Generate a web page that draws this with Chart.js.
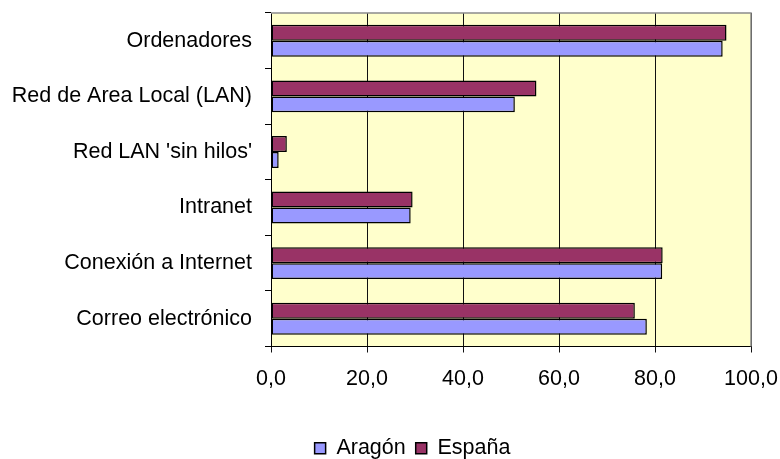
<!DOCTYPE html>
<html><head><meta charset="utf-8">
<script src="https://cdn.jsdelivr.net/npm/chart.js@4"></script>
<style>html,body{margin:0;padding:0;background:#fff}</style>
</head><body>
<canvas id="c" width="780" height="459"></canvas>
<script>
const categories = ["Ordenadores", "Red de Area Local (LAN)", "Red LAN 'sin hilos'", "Intranet", "Conexión a Internet", "Correo electrónico"];
const aragon = [94.1, 50.8, 1.6, 29.1, 81.5, 78.3];
const espana = [94.9, 55.3, 3.3, 29.5, 81.6, 75.8];
const xMin = 0, xMax = 100, xStep = 20;
const seriesNames = ["Aragón", "España"];

const FONT = {family: "'Liberation Sans', Arial, sans-serif", size: 21.5};

const plotBg = {
  id: 'plotBg',
  beforeDraw(chart) {
    const {ctx, chartArea: a} = chart;
    ctx.save();
    ctx.fillStyle = '#FFFFCC';
    ctx.fillRect(a.left, a.top, a.right - a.left, a.bottom - a.top);
    ctx.restore();
  },
  beforeDatasetsDraw(chart) {
    const {ctx, chartArea: a} = chart;
    ctx.save();
    ctx.strokeStyle = '#8c8c8c';
    ctx.lineWidth = 1.5;
    ctx.beginPath();
    ctx.moveTo(a.left, a.top);
    ctx.lineTo(a.right, a.top);
    ctx.lineTo(a.right, a.bottom);
    ctx.stroke();
    ctx.restore();
  }
};

const legendTweak = {
  id: 'legendTweak',
  beforeLayout(chart) {
    const lg = chart.legend;
    if (lg && !lg._tweaked) {
      lg._tweaked = true;
      const orig = lg.fit;
      lg.fit = function () { orig.call(this); this.height = Math.max(0, this.height - 10); };
    }
  },
  afterLayout(chart) {
    const lg = chart.legend;
    if (lg) { lg.left += 37; lg.right += 37; }
  }
};

const noScalePad = s => { s.paddingLeft = 0; s.paddingRight = 0; s.paddingTop = 0; s.paddingBottom = 0; };

Chart.defaults.color = '#000';
Chart.defaults.font.family = FONT.family;

new Chart(document.getElementById('c'), {
  type: 'bar',
  data: {
    labels: categories,
    datasets: [
      {label: seriesNames[1], data: espana, backgroundColor: '#993366', borderColor: '#000', borderWidth: 1.5, borderSkipped: false},
      {label: seriesNames[0], data: aragon, backgroundColor: '#9999FF', borderColor: '#000', borderWidth: 1.5, borderSkipped: false}
    ]
  },
  options: {
    indexAxis: 'y',
    responsive: false,
    animation: false,
    devicePixelRatio: 1,
    datasets: {bar: {categoryPercentage: 0.575, barPercentage: 1.0}},
    layout: {padding: {top: 13, right: 29, left: 0, bottom: 0}},
    scales: {
      x: {
        min: xMin, max: xMax,
        ticks: {stepSize: xStep, padding: 14, font: FONT, maxRotation: 0, autoSkip: false,
          callback: v => Number(v).toFixed(1).replace('.', ',')},
        grid: {color: '#111', lineWidth: 1, tickLength: 6, drawTicks: true},
        border: {color: '#000', width: 1},
        afterFit: s => { s.height = 81; noScalePad(s); }
      },
      y: {
        ticks: {padding: 13, font: FONT, autoSkip: false},
        grid: {drawOnChartArea: false, color: '#000', tickLength: 6, offset: true},
        border: {color: '#000', width: 1},
        afterFit: s => { s.width = 271; noScalePad(s); }
      }
    },
    plugins: {
      legend: {
        position: 'bottom',
        reverse: true,
        labels: {boxWidth: 11, boxHeight: 11, padding: 10, font: FONT, color: '#000'}
      },
      tooltip: {enabled: false},
      title: {display: false}
    }
  },
  plugins: [plotBg, legendTweak]
});
</script>
</body></html>
